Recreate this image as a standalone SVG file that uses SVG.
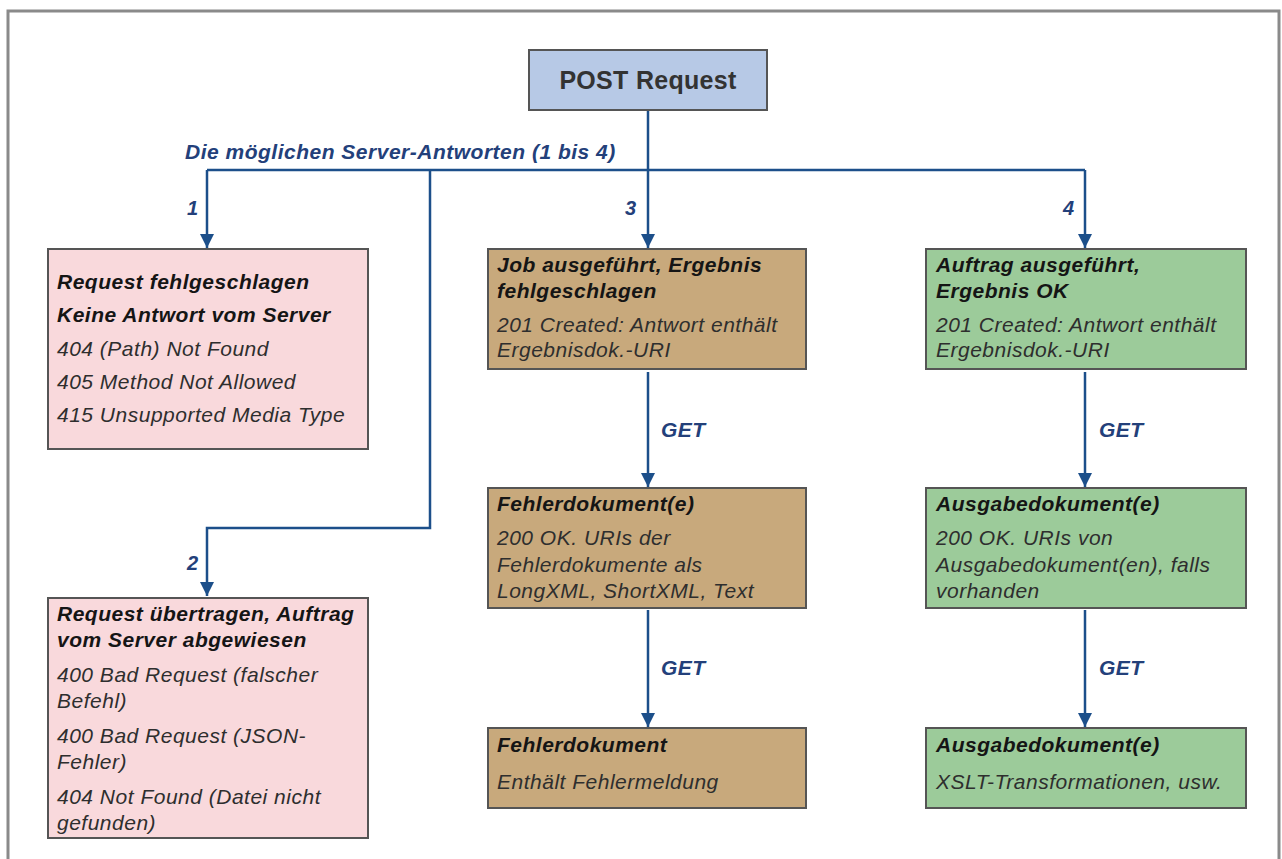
<svg xmlns="http://www.w3.org/2000/svg" width="1282" height="859" viewBox="0 0 1282 859">
<defs>
<marker id="arr" markerUnits="userSpaceOnUse" markerWidth="14" markerHeight="16" refX="14" refY="7" orient="auto">
<path d="M0,0 L14,7 L0,14 Z" fill="#1c4f8a"/>
</marker>
<style>
text{font-family:"Liberation Sans",Arial,sans-serif;letter-spacing:0.5px}
.box{stroke:#555;stroke-width:2}
.post{fill:#b7c9e6}
.pink{fill:#f9d9dc}
.tan{fill:#c8a97c}
.green{fill:#9ccb9a}
.t{font-size:21px;font-weight:bold;font-style:italic;fill:#151515}
.b{font-size:21px;font-style:italic;fill:#2e2e2e}
.lbl{font-size:21px;font-weight:bold;font-style:italic;fill:#23407a}
.num{font-size:20px;font-weight:bold;font-style:italic;fill:#23407a}
.ln{fill:none;stroke:#1c4f8a;stroke-width:2.5}
</style>
</defs>
<rect x="8" y="11" width="1271" height="870" fill="#fff" stroke="#8a8a8a" stroke-width="3"/>

<g id="connectors">
<path class="ln" d="M648,110 V248" marker-end="url(#arr)"/>
<path class="ln" d="M207,170 H1085"/>
<path class="ln" d="M207,170 V248" marker-end="url(#arr)"/>
<path class="ln" d="M430,170 V528 H207 V596" marker-end="url(#arr)"/>
<path class="ln" d="M1085,170 V248" marker-end="url(#arr)"/>
<path class="ln" d="M648,372 V487" marker-end="url(#arr)"/>
<path class="ln" d="M648,610 V727" marker-end="url(#arr)"/>
<path class="ln" d="M1085,372 V487" marker-end="url(#arr)"/>
<path class="ln" d="M1085,610 V727" marker-end="url(#arr)"/>
<text class="lbl" x="185" y="159">Die möglichen Server-Antworten (1 bis 4)</text>
<text class="num" x="187" y="215">1</text>
<text class="num" x="187" y="570">2</text>
<text class="num" x="625" y="215">3</text>
<text class="num" x="1063" y="215">4</text>
<text class="lbl" x="661" y="437">GET</text>
<text class="lbl" x="661" y="675">GET</text>
<text class="lbl" x="1099" y="437">GET</text>
<text class="lbl" x="1099" y="675">GET</text>
</g>

<g id="post">
<rect class="box post" x="529" y="50" width="238" height="60"/>
<text x="648" y="89" text-anchor="middle" style="font-size:25px;font-weight:bold;fill:#333;letter-spacing:0.3px">POST Request</text>
</g>

<g id="r1">
<rect class="box pink" x="48" y="249" width="320" height="200"/>
<text class="t" x="57" y="289">Request fehlgeschlagen</text>
<text class="t" x="57" y="322">Keine Antwort vom Server</text>
<text class="b" x="57" y="356">404 (Path) Not Found</text>
<text class="b" x="57" y="389">405 Method Not Allowed</text>
<text class="b" x="57" y="422">415 Unsupported Media Type</text>
</g>

<g id="r2">
<rect class="box pink" x="48" y="598" width="320" height="240"/>
<text class="t" x="57" y="621">Request übertragen, Auftrag</text>
<text class="t" x="57" y="647">vom Server abgewiesen</text>
<text class="b" x="57" y="682">400 Bad Request (falscher</text>
<text class="b" x="57" y="708">Befehl)</text>
<text class="b" x="57" y="743">400 Bad Request (JSON-</text>
<text class="b" x="57" y="769">Fehler)</text>
<text class="b" x="57" y="804">404 Not Found (Datei nicht</text>
<text class="b" x="57" y="830">gefunden)</text>
</g>

<g id="r3">
<rect class="box tan" x="488" y="249" width="318" height="120"/>
<text class="t" x="497" y="272">Job ausgeführt, Ergebnis</text>
<text class="t" x="497" y="298">fehlgeschlagen</text>
<text class="b" x="497" y="332">201 Created: Antwort enthält</text>
<text class="b" x="497" y="357">Ergebnisdok.-URI</text>
</g>

<g id="r3a">
<rect class="box tan" x="488" y="488" width="318" height="120"/>
<text class="t" x="497" y="511">Fehlerdokument(e)</text>
<text class="b" x="497" y="545">200 OK. URIs der</text>
<text class="b" x="497" y="572">Fehlerdokumente als</text>
<text class="b" x="497" y="598">LongXML, ShortXML, Text</text>
</g>

<g id="r3b">
<rect class="box tan" x="488" y="728" width="318" height="80"/>
<text class="t" x="497" y="752">Fehlerdokument</text>
<text class="b" x="497" y="789">Enthält Fehlermeldung</text>
</g>

<g id="r4">
<rect class="box green" x="926" y="249" width="320" height="120"/>
<text class="t" x="936" y="272">Auftrag ausgeführt,</text>
<text class="t" x="936" y="298">Ergebnis OK</text>
<text class="b" x="936" y="332">201 Created: Antwort enthält</text>
<text class="b" x="936" y="357">Ergebnisdok.-URI</text>
</g>

<g id="r4a">
<rect class="box green" x="926" y="488" width="320" height="120"/>
<text class="t" x="936" y="511">Ausgabedokument(e)</text>
<text class="b" x="936" y="545">200 OK. URIs von</text>
<text class="b" x="936" y="572">Ausgabedokument(en), falls</text>
<text class="b" x="936" y="598">vorhanden</text>
</g>

<g id="r4b">
<rect class="box green" x="926" y="728" width="320" height="80"/>
<text class="t" x="936" y="752">Ausgabedokument(e)</text>
<text class="b" x="936" y="789">XSLT-Transformationen, usw.</text>
</g>
</svg>
